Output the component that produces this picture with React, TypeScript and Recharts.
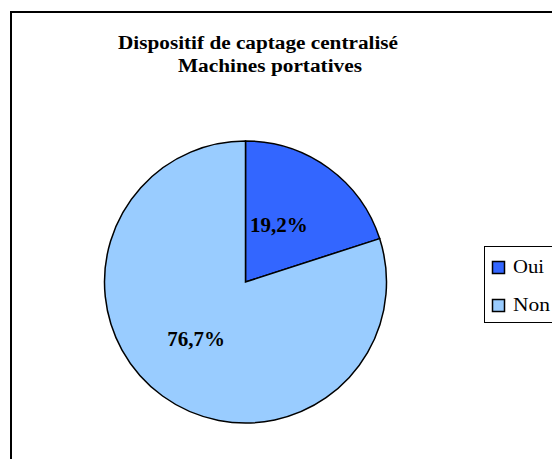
import React from 'react';
import { PieChart, Pie, Cell, Legend } from 'recharts';

const categories = ['Oui', 'Non'];
const values = [19.2, 76.7];
const colors = ['#3366FF', '#99CCFF'];
const titleLines = ['Dispositif de captage centralisé', 'Machines portatives'];

const data = categories.map((name, i) => ({ name, value: values[i] }));

const FONT = "'Liberation Serif', 'Times New Roman', serif";
const RAD = Math.PI / 180;

const renderLabel = (props: any) => {
  const { cx, cy, midAngle, outerRadius, value } = props;
  const r = outerRadius * 0.5;
  const x = cx + r * Math.cos(-midAngle * RAD) - 8;
  const y = cy + r * Math.sin(-midAngle * RAD);
  return (
    <text
      x={x}
      y={y}
      textAnchor="middle"
      dominantBaseline="central"
      fontFamily={FONT}
      fontWeight="bold"
      fontSize={21}
      fill="#000"
    >
      {value.toFixed(1).replace('.', ',') + '%'}
    </text>
  );
};

const legendTextLen = [31, 37];

const renderLegend = () => (
  <svg width={90} height={78} style={{ display: 'block' }}>
    <rect x={0.5} y={0.5} width={100} height={76} fill="#fff" stroke="#000" strokeWidth={1} />
    {data.map((d, i) => (
      <g key={d.name}>
        <rect
          x={8.5}
          y={15.5 + i * 38}
          width={12}
          height={12}
          fill={colors[i]}
          stroke="#000"
          strokeWidth={1.5}
        />
        <text
          x={29}
          y={27 + i * 38}
          fontFamily={FONT}
          fontSize={18.5}
          textLength={legendTextLen[i]}
          lengthAdjust="spacingAndGlyphs"
          fill="#000"
        >
          {d.name}
        </text>
      </g>
    ))}
  </svg>
);

export default function App() {
  return (
    <div
      style={{
        position: 'fixed',
        left: 0,
        top: 0,
        width: 552,
        height: 459,
        overflow: 'hidden',
        background: '#fff',
      }}
    >
      <PieChart width={552} height={459} margin={{ top: 0, right: 0, bottom: 0, left: 0 }}>
        <Pie
          data={data}
          dataKey="value"
          nameKey="name"
          cx={245.5}
          cy={282}
          outerRadius={141}
          startAngle={90}
          endAngle={-270}
          stroke="#000"
          strokeWidth={1.5}
          label={renderLabel}
          labelLine={false}
          isAnimationActive={false}
        >
          {data.map((d, i) => (
            <Cell key={d.name} fill={colors[i]} />
          ))}
        </Pie>
        <Legend
          content={renderLegend}
          wrapperStyle={{ left: 484, top: 246, width: 90, height: 78 }}
        />
      </PieChart>
      <svg
        width={552}
        height={459}
        style={{ position: 'absolute', left: 0, top: 0, pointerEvents: 'none' }}
      >
        <rect x={11} y={12} width={600} height={500} fill="none" stroke="#000" strokeWidth={2} />
        <text
          x={258}
          y={49}
          textAnchor="middle"
          fontFamily={FONT}
          fontWeight="bold"
          fontSize={18.5}
          textLength={280}
          lengthAdjust="spacingAndGlyphs"
          fill="#000"
        >
          {titleLines[0]}
        </text>
        <text
          x={270}
          y={72}
          textAnchor="middle"
          fontFamily={FONT}
          fontWeight="bold"
          fontSize={18.5}
          textLength={184}
          lengthAdjust="spacingAndGlyphs"
          fill="#000"
        >
          {titleLines[1]}
        </text>
      </svg>
    </div>
  );
}
